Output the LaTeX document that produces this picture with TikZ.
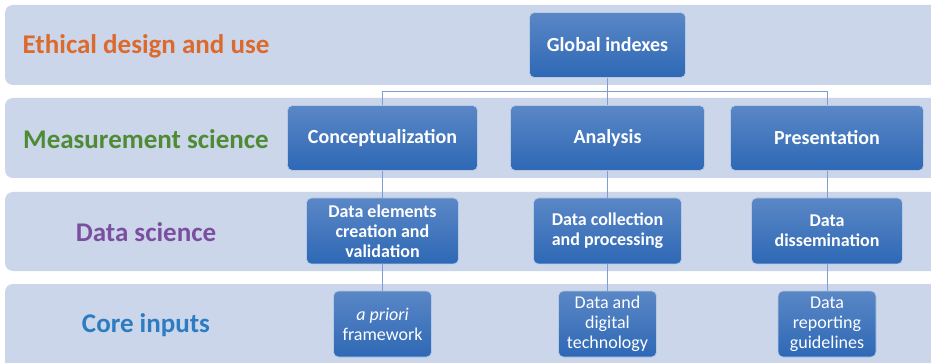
\documentclass[tikz,border=0pt]{standalone}
\usepackage{fontspec}
\setmainfont{Carlito}
\definecolor{bandfill}{HTML}{CCD6EB}
\definecolor{boxtop}{HTML}{5A87C6}
\definecolor{boxbot}{HTML}{2E68B5}
\definecolor{linkcol}{HTML}{7E9ED3}
\definecolor{ethic}{HTML}{DB6A2C}
\definecolor{measure}{HTML}{4F8B35}
\definecolor{datasci}{HTML}{7B4F9F}
\definecolor{coreinp}{HTML}{2B7CC1}
\tikzset{
  band/.style={fill=bandfill, rounded corners=8pt},
  lvl/.style={font=\bfseries\fontsize{27}{30}\selectfont, anchor=center, yshift=-1.5pt},
  card/.style={rectangle, rounded corners=5pt, top color=boxtop, bottom color=boxbot,
    draw=white!55!boxtop, line width=0.6pt, text=white, align=center, inner sep=2pt},
  bigcard/.style={card, font=\bfseries\fontsize{20}{24}\selectfont, minimum height=65pt},
  midcard/.style={card, font=\bfseries\fontsize{18}{20}\selectfont, minimum height=66pt},
  smallcard/.style={card, font=\fontsize{18}{20}\selectfont, minimum height=66pt, minimum width=98pt},
  link/.style={draw=linkcol, line width=0.8pt}
}
\begin{document}
\begin{tikzpicture}[x=1pt, y=-1pt]
\useasboundingbox (0,0) rectangle (931,363);
\fill[white] (0,0) rectangle (931,363);
% horizontal bands
\path[band] (5,5) rectangle (945,85);
\path[band] (5,98) rectangle (945,178);
\path[band] (5,192) rectangle (945,271);
\path[band] (5,284) rectangle (945,375);
% band titles
\node[lvl, text=ethic] (t1) at (146,45) {Ethical design and use};
\node[lvl, text=measure] (t2) at (146,138) {Measurement science};
\node[lvl, text=datasci] (t3) at (146,231) {Data science};
\node[lvl, text=coreinp] (t4) at (146,324) {Core inputs};
% top node
\node[bigcard, minimum width=156pt] (gi) at (607.5,45) {Global indexes};
% second row
\node[bigcard, minimum width=190pt] (con) at (382.5,138) {Conceptualization};
\node[bigcard, minimum width=194pt] (ana) at (607.5,138) {Analysis};
\node[bigcard, minimum width=193pt] (pre) at (827,138) {Presentation};
% third row
\node[midcard, minimum width=152pt] (del) at (382.5,231) {Data elements\\creation and\\validation};
\node[midcard, minimum width=148pt] (dcp) at (607.5,231) {Data collection\\and processing};
\node[midcard, minimum width=151pt] (dd) at (827,231) {Data\\dissemination};
% fourth row
\node[smallcard] (apf) at (382.5,324) {\textit{a priori}\\framework};
\node[smallcard] (ddt) at (607.5,324) {Data and\\digital\\technology};
\node[smallcard] (drg) at (827,324) {Data\\reporting\\guidelines};
% connectors
\coordinate (hub) at (607.5,91.5);
\draw[link] (gi.south) -- (ana.north);
\draw[link] (con.north) |- (hub) -| (pre.north);
\draw[link] (con.south) -- (del.north);
\draw[link] (ana.south) -- (dcp.north);
\draw[link] (pre.south) -- (dd.north);
\draw[link] (del.south) -- (apf.north);
\draw[link] (dcp.south) -- (ddt.north);
\draw[link] (dd.south) -- (drg.north);
\end{tikzpicture}
\end{document}
